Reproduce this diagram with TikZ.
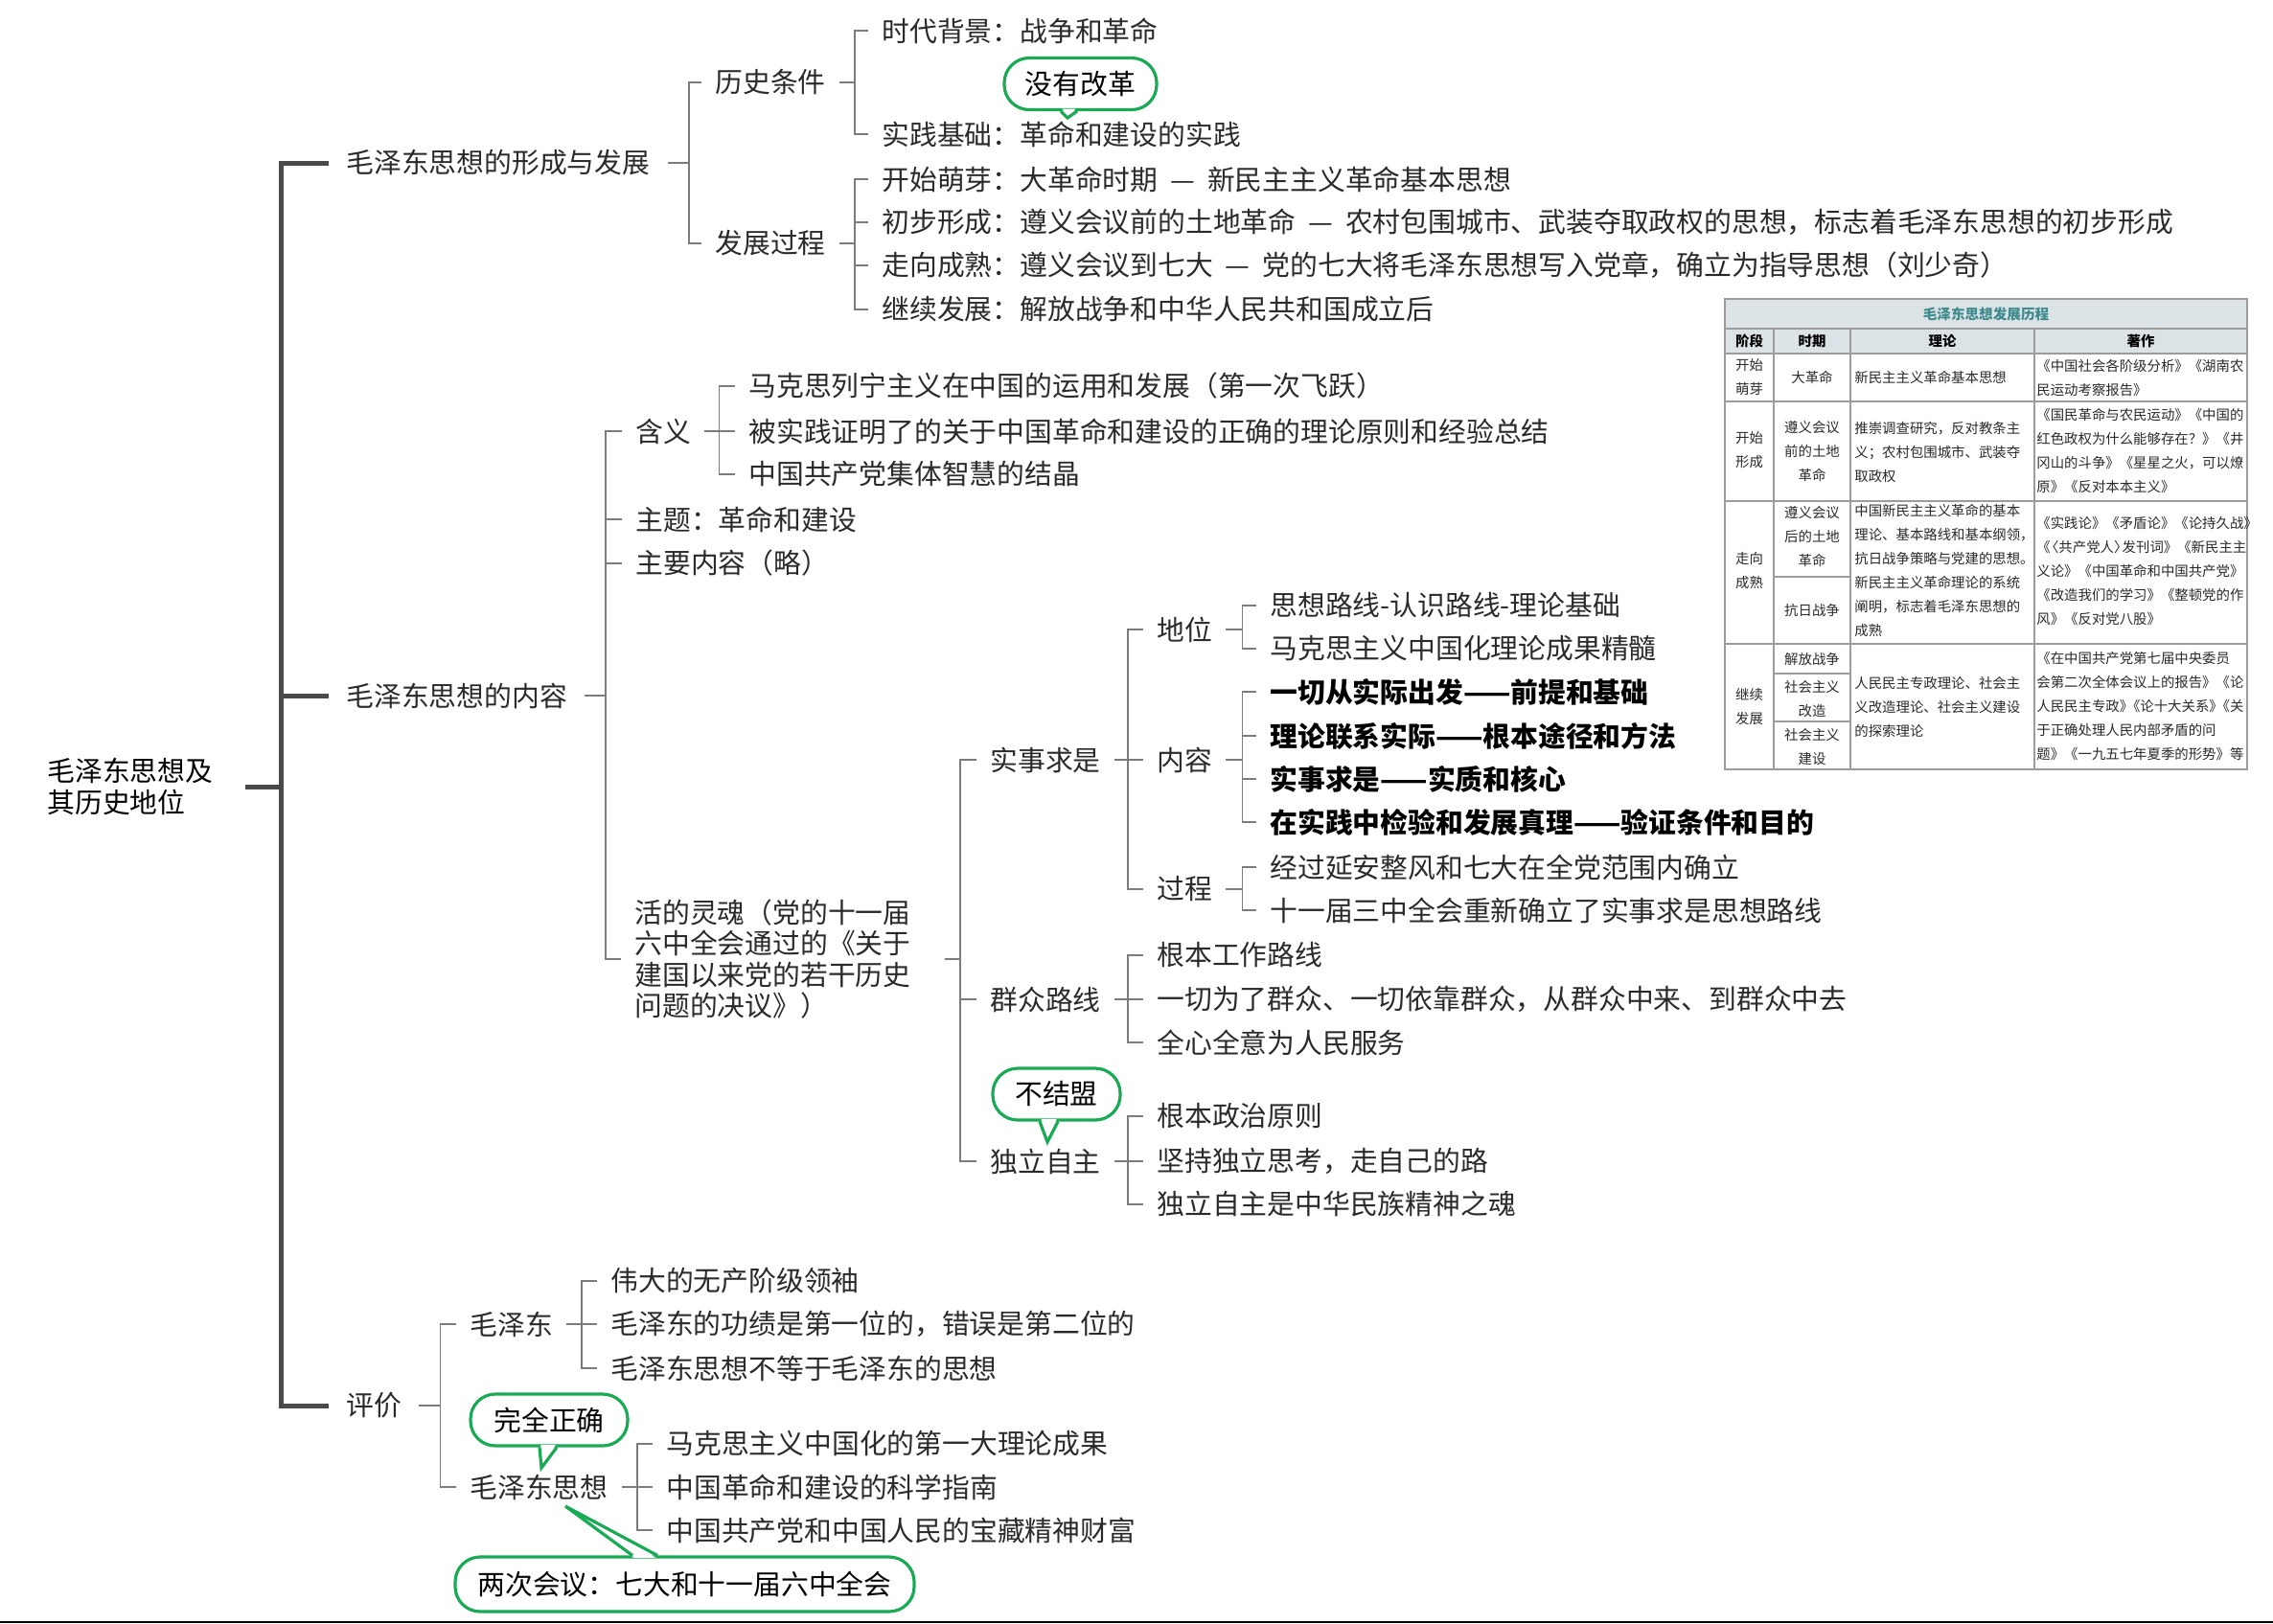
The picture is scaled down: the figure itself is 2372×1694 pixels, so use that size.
\documentclass[tikz,border=0pt]{standalone}
\usepackage{fontspec}
\setmainfont{Noto Sans CJK SC}
\usepackage{tikz}
\usetikzlibrary{calc}
\definecolor{ink}{HTML}{2A2A2A}
\definecolor{wire}{HTML}{7C7C7C}
\definecolor{trunkc}{HTML}{4A4A4A}
\definecolor{leaf}{HTML}{1AAA55}
\definecolor{rule}{HTML}{9C9C9C}
\definecolor{head}{HTML}{DCE3E6}
\definecolor{teal}{HTML}{3E8A8C}
\newcommand{\sepdash}{\hspace{.45em}—\hspace{.45em}}
\newcommand{\bkj}{》\kern-.5em《}
\tikzset{
  trunk/.style={draw=trunkc, line width=2.5pt},
  br/.style={draw=wire, line width=0.9pt},
  item/.style={anchor=west, text=ink, inner xsep=7pt, inner ysep=2pt, font=\fontsize{14.4pt}{16.5pt}\selectfont},
  main/.style={item, inner xsep=9pt},
  key/.style={item, text=black, font=\fontsize{14.4pt}{16.5pt}\selectfont\bfseries},
  bubble/.style={draw=leaf, line width=1.6pt, fill=white, rounded corners=13pt, minimum height=27pt, inner sep=0pt, text=black, font=\fontsize{14.4pt}{16.5pt}\selectfont},
  tip/.style={draw=leaf, line width=1.6pt, line join=miter},
  grid/.style={draw=rule, line width=0.7pt},
  cell/.style={text=ink, inner sep=0pt, align=center, font=\fontsize{7.2pt}{12.5pt}\selectfont},
  celll/.style={cell, anchor=west, align=left},
  hcell/.style={cell, text=black, font=\fontsize{7.2pt}{12.5pt}\selectfont\bfseries},
}
\begin{document}
\begin{tikzpicture}[x=0.5pt,y=-0.5pt]
  \fill[white] (0,0) rectangle (2372,1694);
  \useasboundingbox (0,0) rectangle (2372,1694);

  % root and first level
  \node[item, text=black, align=left] (root) at (35,821) {毛泽东思想及\\其历史地位};
  \node[main] (form) at (343,170) {毛泽东思想的形成与发展};
  \node[main] (cont) at (343,726) {毛泽东思想的内容};
  \node[main] (eval) at (343,1467) {评价};

  \draw[trunk] ([xshift=9.5pt]root.east) -- ++(38,0) coordinate (rb);
  \draw[trunk] (rb) |- (form.west) (rb) |- (cont.west) (rb) |- (eval.west);

  % formation
  \node[item] (cond) at (732,86) {历史条件};
  \node[item] (proc) at (732,254) {发展过程};
  \node[item] (bg) at (906,32) {时代背景：战争和革命};
  \node[item] (base) at (906,140) {实践基础：革命和建设的实践};
  \node[item] (p1) at (906,187) {开始萌芽：大革命时期\sepdash 新民主主义革命基本思想};
  \node[item] (p2) at (906,232) {初步形成：遵义会议前的土地革命\sepdash 农村包围城市、武装夺取政权的思想，标志着毛泽东思想的初步形成};
  \node[item] (p3) at (906,277) {走向成熟：遵义会议到七大\sepdash 党的七大将毛泽东思想写入党章，确立为指导思想（刘少奇）};
  \node[item] (p4) at (906,323) {继续发展：解放战争和中华人民共和国成立后};

  \draw[br] (form.east) -- ++(22,0) coordinate (fb) (fb) |- (cond.west) (fb) |- (proc.west);
  \draw[br] (cond.east) -- ++(16,0) coordinate (cb) (cb) |- (bg.west) (cb) |- (base.west);
  \draw[br] (proc.east) -- ++(16,0) coordinate (pb) (pb) |- (p1.west) (pb) |- (p2.west) (pb) |- (p3.west) (pb) |- (p4.west);

  \node[bubble, minimum width=79.5pt] (bgai) at (1127.5,87.5) {没有改革};
  \coordinate (bgait) at (1114,123);
  \fill[white] ([xshift=-9.5pt,yshift=1.2pt]bgai.south) -- (bgait) -- ([xshift=-2.5pt,yshift=1.2pt]bgai.south) -- cycle;
  \draw[tip] ([xshift=-10.25pt]bgai.south) -- (bgait) -- ([xshift=-1.75pt]bgai.south);

  % content
  \node[item] (mean) at (649,450) {含义};
  \node[item] (theme) at (649,542) {主题：革命和建设};
  \node[item] (mainc) at (649,588) {主要内容（略）};
  \node[item, align=left, font=\fontsize{14.4pt}{16.3pt}\selectfont] (soul) at (648,1001) {活的灵魂（党的十一届\\六中全会通过的《关于\\建国以来党的若干历史\\问题的决议》）};
  \node[item] (m1) at (767,403) {马克思列宁主义在中国的运用和发展（第一次飞跃）};
  \node[item] (m2) at (767,450) {被实践证明了的关于中国革命和建设的正确的理论原则和经验总结};
  \node[item] (m3) at (767,495) {中国共产党集体智慧的结晶};

  \draw[br] (cont.east) -- ++(22,0) coordinate (kb) (kb) |- (mean.west) (kb) |- (theme.west) (kb) |- (mainc.west) (kb) |- (soul.west);
  \draw[br] (mean.east) -- ++(15,0) coordinate (mb) (mb) |- (m1.west) (mb) |- (m2.west) (mb) |- (m3.west);

  \node[item] (srsx) at (1019,793) {实事求是};
  \node[item] (qzlx) at (1019,1043) {群众路线};
  \node[item] (dlzz) at (1019,1212) {独立自主};
  \draw[br] ([xshift=10.5pt]soul.east) -- ++(16,0) coordinate (sb) (sb) |- (srsx.west) (sb) |- (qzlx.west) (sb) |- (dlzz.west);

  \node[item] (pos) at (1193,657) {地位};
  \node[item] (nr) at (1193,793) {内容};
  \node[item] (gc) at (1193,928) {过程};
  \draw[br] (srsx.east) -- ++(14,0) coordinate (xb) (xb) |- (pos.west) (xb) |- (nr.west) (xb) |- (gc.west);

  \node[item] (pos1) at (1311,632) {思想路线-认识路线-理论基础};
  \node[item] (pos2) at (1311,677) {马克思主义中国化理论成果精髓};
  \node[key] (nr1) at (1311,722) {一切从实际出发——前提和基础};
  \node[key] (nr2) at (1311,768) {理论联系实际——根本途径和方法};
  \node[key] (nr3) at (1311,813) {实事求是——实质和核心};
  \node[key] (nr4) at (1311,858) {在实践中检验和发展真理——验证条件和目的};
  \node[item] (gc1) at (1311,905) {经过延安整风和七大在全党范围内确立};
  \node[item] (gc2) at (1311,950) {十一届三中全会重新确立了实事求是思想路线};
  \draw[br] (pos.east) -- ++(17,0) coordinate (wb) (wb) |- (pos1.west) (wb) |- (pos2.west);
  \draw[br] (nr.east) -- ++(17,0) coordinate (nb) (nb) |- (nr1.west) (nb) |- (nr2.west) (nb) |- (nr3.west) (nb) |- (nr4.west);
  \draw[br] (gc.east) -- ++(17,0) coordinate (gb) (gb) |- (gc1.west) (gb) |- (gc2.west);

  \node[item] (q1) at (1193,997) {根本工作路线};
  \node[item] (q2) at (1193,1043) {一切为了群众、一切依靠群众，从群众中来、到群众中去};
  \node[item] (q3) at (1193,1088) {全心全意为人民服务};
  \draw[br] (qzlx.east) -- ++(14,0) coordinate (qb) (qb) |- (q1.west) (qb) |- (q2.west) (qb) |- (q3.west);

  \node[item] (d1) at (1193,1165) {根本政治原则};
  \node[item] (d2) at (1193,1212) {坚持独立思考，走自己的路};
  \node[item] (d3) at (1193,1257) {独立自主是中华民族精神之魂};
  \draw[br] (dlzz.east) -- ++(14,0) coordinate (db) (db) |- (d1.west) (db) |- (d2.west) (db) |- (d3.west);

  \node[bubble, minimum width=66.5pt] (bjm) at (1102.5,1142) {不结盟};
  \coordinate (bjmt) at (1093,1192);
  \fill[white] ([xshift=-8pt,yshift=1.2pt]bjm.south) -- (bjmt) -- ([xshift=0pt,yshift=1.2pt]bjm.south) -- cycle;
  \draw[tip] ([xshift=-8.75pt]bjm.south) -- (bjmt) -- ([xshift=0.75pt]bjm.south);

  % evaluation
  \node[item] (mzd) at (476,1382) {毛泽东};
  \node[item] (mzdsx) at (476,1552) {毛泽东思想};
  \draw[br] (eval.east) -- ++(22,0) coordinate (eb) (eb) |- (mzd.west) (eb) |- (mzdsx.west);

  \node[item] (z1) at (623,1337) {伟大的无产阶级领袖};
  \node[item] (z2) at (623,1382) {毛泽东的功绩是第一位的，错误是第二位的};
  \node[item] (z3) at (623,1428) {毛泽东思想不等于毛泽东的思想};
  \draw[br] (mzd.east) -- ++(16,0) coordinate (zb) (zb) |- (z1.west) (zb) |- (z2.west) (zb) |- (z3.west);

  \node[item] (s1) at (681,1507) {马克思主义中国化的第一大理论成果};
  \node[item] (s2) at (681,1552) {中国革命和建设的科学指南};
  \node[item] (s3) at (681,1597) {中国共产党和中国人民的宝藏精神财富};
  \draw[br] (mzdsx.east) -- ++(16,0) coordinate (tb) (tb) |- (s1.west) (tb) |- (s2.west) (tb) |- (s3.west);

  \node[bubble, minimum width=82pt] (wqzq) at (573,1482) {完全正确};
  \coordinate (wqzqt) at (565,1532);
  \fill[white] ([xshift=-4.3pt,yshift=1.2pt]wqzq.south) -- (wqzqt) -- ([xshift=3.3pt,yshift=1.2pt]wqzq.south) -- cycle;
  \draw[tip] ([xshift=-5pt]wqzq.south) -- (wqzqt) -- ([xshift=4pt]wqzq.south);

  \node[bubble, minimum width=239.5pt, minimum height=28.5pt] (lchy) at (714.5,1653.5) {两次会议：七大和十一届六中全会};
  \coordinate (lchyt) at (590,1572);
  \fill[white] ([xshift=-26.5pt,yshift=-1.2pt]lchy.north) -- (lchyt) -- ([xshift=-15pt,yshift=-1.2pt]lchy.north) -- cycle;
  \draw[tip] ([xshift=-27.25pt]lchy.north) -- (lchyt) -- ([xshift=-14.25pt]lchy.north);

  % table
  \fill[head] (1800,312) rectangle (2345,369);
  \draw[grid] (1800,312) rectangle (2345,803);
  \draw[grid] (1800,343) -- (2345,343) (1800,369) -- (2345,369) (1800,419) -- (2345,419) (1800,523) -- (2345,523) (1800,672) -- (2345,672);
  \draw[grid] (1851,343) -- (1851,803) (1931,343) -- (1931,803) (2123,343) -- (2123,803);
  \draw[grid] (1851,602) -- (1931,602) (1851,703) -- (1931,703) (1851,753) -- (1931,753);

  \node[cell, text=teal, font=\fontsize{7.3pt}{12.5pt}\selectfont\bfseries] (ttl) at (2072.5,327.5) {毛泽东思想发展历程};
  \node[hcell] (h1) at (1825.5,356) {阶段};
  \node[hcell] (h2) at (1891,356) {时期};
  \node[hcell] (h3) at (2027,356) {理论};
  \node[hcell] (h4) at (2234,356) {著作};

  \node[cell] (a1) at (1825.5,394) {开始\\萌芽};
  \node[cell] (a2) at (1891,394) {大革命};
  \node[celll] (a3) at (1935,394) {新民主主义革命基本思想};
  \node[celll] (a4) at (2125,394.5) {《中国社会各阶级分析》《湖南农\\民运动考察报告》};

  \node[cell] (b1) at (1825.5,470) {开始\\形成};
  \node[cell] (b2) at (1891,471) {遵义会议\\前的土地\\革命};
  \node[celll] (b3) at (1935,472) {推崇调查研究，反对教条主\\义；农村包围城市、武装夺\\取政权};
  \node[celll] (b4) at (2125,470.5) {《国民革命与农民运动》《中国的\\红色政权为什么能够存在？》《井\\冈山的斗争》《星星之火，可以燎\\原》《反对本本主义》};

  \node[cell] (c1) at (1825.5,595.5) {走向\\成熟};
  \node[cell] (c2) at (1891,560) {遵义会议\\后的土地\\革命};
  \node[cell] (c2b) at (1891,637) {抗日战争};
  \node[celll] (c3) at (1935,595.5) {中国新民主主义革命的基本\\理论、基本路线和基本纲领，\\抗日战争策略与党建的思想。\\新民主主义革命理论的系统\\阐明，标志着毛泽东思想的\\成熟};
  \node[celll] (c4) at (2125,596) {《实践论》《矛盾论》《论持久战》\\《\kern-.4em〈共产党人〉\kern-.4em 发刊词》《新民主主\\义论》《中国革命和中国共产党》\\《改造我们的学习》《整顿党的作\\风》《反对党八股》};

  \node[cell] (d1t) at (1825.5,737.5) {继续\\发展};
  \node[cell] (d2t) at (1891,688) {解放战争};
  \node[cell] (d2u) at (1891,729.5) {社会主义\\改造};
  \node[cell] (d2v) at (1891,779.5) {社会主义\\建设};
  \node[celll] (d3t) at (1935,737.5) {人民民主专政理论、社会主\\义改造理论、社会主义建设\\的探索理论};
  \node[celll] (d4t) at (2125,737.5) {《在中国共产党第七届中央委员\\会第二次全体会议上的报告》《论\\人民民主专政\bkj 论十大关系\bkj 关\\于正确处理人民内部矛盾的问\\题》《一九五七年夏季的形势》等};

  % bottom rule
  \draw[black, line width=1pt] (0,1693) -- (2372,1693);
\end{tikzpicture}
\end{document}
